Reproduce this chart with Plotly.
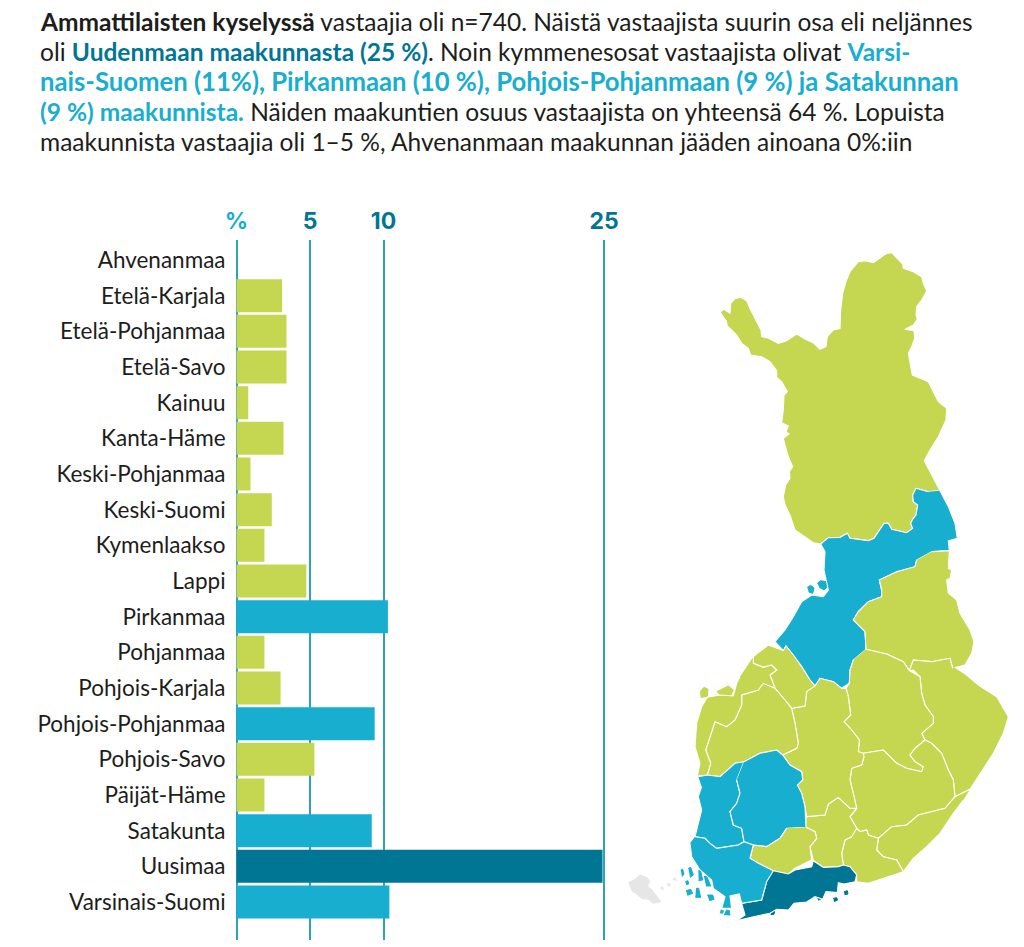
import plotly.graph_objects as go

# survey share per region
categories = ["Ahvenanmaa", "Etelä-Karjala", "Etelä-Pohjanmaa", "Etelä-Savo", "Kainuu", "Kanta-Häme",
              "Keski-Pohjanmaa", "Keski-Suomi", "Kymenlaakso", "Lappi", "Pirkanmaa", "Pohjanmaa",
              "Pohjois-Karjala", "Pohjois-Pohjanmaa", "Pohjois-Savo", "Päijät-Häme", "Satakunta",
              "Uusimaa", "Varsinais-Suomi"]
values = [0, 3.1, 3.4, 3.4, 0.8, 3.2, 0.95, 2.4, 1.9, 4.75, 10.3, 1.9, 3.0, 9.4, 5.3, 1.9, 9.2, 24.9, 10.4]
tick_vals = [0, 5, 10, 25]
tick_labels = ["%", "5", "10", "25"]
mid_regions = ["Pirkanmaa", "Pohjois-Pohjanmaa", "Satakunta", "Varsinais-Suomi"]
top_regions = ["Uusimaa"]

LIME = "#c5d650"
CYAN = "#17aecf"
TEAL = "#007694"
GRID = "#2ea3b8"
INK = "#1d1d1b"
ALAND = "#e6e6e6"
TEXT_FONT = "Lato"


def region_color(name):
    if name in top_regions:
        return TEAL
    if name in mid_regions:
        return CYAN
    return LIME


def north(points):
    return [(x, y - 1020) for x, y in points]


# map outlines, traced by hand
lappi = north([(302, 215), (312, 208), (330, 220), (332, 190), (345, 176), (362, 172), (380, 182), (392, 210),
               (410, 245), (423, 270), (425, 290), (445, 295), (475, 310), (500, 302), (530, 282), (555, 297),
               (582, 310), (600, 328), (618, 320), (622, 290), (640, 270), (660, 266), (662, 210), (668, 160),
               (678, 125), (690, 95), (715, 65), (735, 62), (760, 68), (785, 50), (800, 40), (815, 38), (830, 55),
               (848, 72), (850, 85), (880, 95), (905, 110), (910, 130), (920, 153), (905, 180), (890, 200),
               (888, 225), (892, 238), (880, 255), (855, 268), (882, 272), (884, 295), (875, 320), (865, 340),
               (870, 370), (877, 405), (900, 415), (925, 425), (940, 455), (955, 485), (980, 505), (978, 540),
               (955, 590), (930, 630), (913, 662), (930, 695), (945, 725), (960, 752), (925, 755), (888, 745),
               (878, 765), (880, 785), (893, 795), (888, 825), (878, 838), (872, 850), (878, 865), (860, 878),
               (815, 868), (805, 850), (792, 850), (778, 872), (762, 895), (745, 902), (690, 895), (682, 880),
               (660, 892), (625, 893), (602, 912), (580, 908), (560, 895), (535, 878), (525, 870), (510, 825),
               (495, 795), (490, 770), (497, 735), (510, 715), (508, 695), (518, 680), (505, 650), (495, 615),
               (490, 595), (507, 582), (498, 575), (505, 558), (485, 548), (490, 510), (492, 465), (502, 455),
               (485, 425), (470, 412), (470, 392), (450, 365), (425, 350), (392, 345), (385, 325), (365, 310),
               (350, 285), (322, 258), (318, 240)])
pohjois_pohjanmaa = north([(960, 752), (985, 800), (1005, 850), (1012, 895), (985, 903), (988, 932), (935, 935),
                           (890, 960), (885, 980), (830, 995), (778, 1020)]) + [
    (785, 30), (785, 50), (745, 65), (715, 95), (700, 120), (735, 155), (738, 208), (700, 240), (690, 270),
    (688, 310), (665, 325), (640, 305), (600, 295), (585, 318), (570, 300), (545, 260), (520, 225), (498, 198),
    (490, 212), (465, 185), (495, 150), (520, 110), (545, 65), (575, 45), (610, 50), (625, 30)] + north([
        (612, 990), (615, 935), (602, 912), (625, 893), (660, 892), (682, 880), (690, 895), (745, 902), (762, 895),
        (778, 872), (792, 850), (805, 850), (815, 868), (860, 878), (878, 865), (872, 850), (878, 838), (888, 825),
        (893, 795), (880, 785), (878, 765), (888, 745), (925, 755)])
kainuu = north([(935, 935), (988, 932), (985, 985), (995, 990), (990, 1015), (980, 1020)]) + [
    (985, 40), (1010, 60), (1020, 100), (1050, 150), (1062, 185), (1055, 220), (1035, 255), (1005, 262), (998, 265),
    (990, 235), (935, 245), (880, 240), (868, 272), (850, 245), (800, 222), (738, 208), (735, 155), (700, 120),
    (715, 95), (745, 65), (785, 50), (785, 30), (778, 0)] + north([(830, 995), (885, 980), (890, 960)])
pohjois_karjala = [(1005, 262), (1040, 285), (1075, 315), (1130, 350), (1165, 410), (1150, 460), (1120, 520),
                   (1085, 575), (1050, 628), (1005, 650), (1000, 600), (985, 570), (965, 520), (935, 490), (915, 480),
                   (905, 460), (940, 430), (940, 410), (915, 375), (905, 340), (900, 290), (880, 270), (868, 272),
                   (880, 240), (935, 245), (990, 235), (998, 265)]
pohjois_savo = [(738, 208), (800, 222), (850, 245), (868, 272), (900, 290), (905, 340), (915, 375), (940, 410),
                (940, 430), (905, 460), (915, 480), (885, 505), (870, 525), (885, 545), (910, 560), (905, 575),
                (860, 565), (830, 550), (790, 510), (730, 520), (715, 515), (718, 480), (695, 450), (672, 425),
                (692, 405), (685, 350), (678, 325), (688, 310), (690, 270), (700, 240)]
etela_savo = [(730, 520), (790, 510), (830, 550), (860, 565), (905, 575), (910, 560), (885, 545), (870, 525),
              (885, 505), (915, 480), (935, 490), (965, 520), (985, 570), (1000, 600), (1005, 650), (975, 685),
              (935, 695), (895, 705), (860, 735), (815, 740), (775, 775), (745, 765), (740, 750), (720, 755),
              (710, 745), (690, 710), (710, 685), (700, 640), (690, 600), (695, 565), (725, 555), (732, 530)]
etela_karjala = [(1050, 628), (1005, 650), (975, 685), (935, 695), (895, 705), (860, 735), (815, 740), (775, 775),
                 (770, 810), (790, 830), (830, 840), (850, 875), (880, 835), (920, 800), (960, 760), (1000, 700),
                 (1030, 660)]
kymenlaakso = [(710, 745), (720, 755), (740, 750), (745, 765), (775, 775), (770, 810), (790, 830), (830, 840),
               (850, 875), (790, 895), (745, 910), (710, 905), (710, 885), (690, 860), (670, 855), (665, 820),
               (675, 780), (695, 770)]
paijat_hame = [(560, 710), (615, 705), (625, 672), (655, 652), (690, 685), (710, 685), (690, 710), (710, 745),
               (695, 770), (675, 780), (665, 820), (670, 855), (655, 860), (610, 862), (580, 842), (570, 800),
               (590, 775), (585, 755), (558, 742)]
keski_suomi = [(585, 318), (600, 295), (640, 305), (665, 325), (678, 325), (685, 350), (692, 405), (672, 425),
               (695, 450), (718, 480), (715, 515), (730, 520), (732, 530), (725, 555), (695, 565), (690, 600),
               (700, 640), (710, 685), (690, 685), (655, 652), (625, 672), (615, 705), (560, 710), (555, 680),
               (545, 640), (532, 615), (548, 600), (545, 575), (510, 555), (488, 525), (530, 505), (535, 490),
               (525, 430), (515, 385), (555, 378), (560, 335)]
keski_pohjanmaa = [(400, 230), (445, 195), (490, 212), (498, 198), (520, 225), (545, 260), (570, 300), (585, 318),
                   (560, 335), (555, 378), (515, 385), (495, 360), (465, 325), (450, 285), (470, 270), (455, 255),
                   (430, 262), (400, 250)]
etela_pohjanmaa = [(430, 310), (465, 325), (495, 360), (515, 385), (525, 430), (535, 490), (530, 505), (488, 525),
                   (470, 510), (420, 520), (372, 545), (345, 550), (300, 590), (262, 585), (272, 550), (257, 510),
                   (285, 425), (320, 440), (345, 420), (365, 375), (365, 345), (415, 330)]
pohjanmaa = [(400, 230), (400, 250), (430, 262), (455, 255), (470, 270), (450, 285), (465, 325), (430, 310),
             (415, 330), (365, 345), (365, 375), (345, 420), (320, 440), (285, 425), (257, 510), (272, 550),
             (262, 585), (232, 588), (240, 550), (225, 500), (230, 430), (245, 380), (262, 352), (300, 345),
             (340, 348), (350, 310), (360, 290)]
satakunta = [(235, 590), (262, 585), (300, 590), (345, 550), (372, 545), (350, 600), (360, 640), (350, 670),
             (330, 695), (340, 735), (365, 745), (372, 785), (355, 795), (290, 805), (270, 790), (255, 775),
             (225, 770), (235, 730), (245, 690), (235, 650), (245, 620)]
pirkanmaa = [(372, 545), (420, 520), (470, 510), (488, 525), (510, 555), (545, 575), (548, 600), (532, 615),
             (545, 640), (555, 680), (558, 742), (500, 745), (480, 775), (440, 800), (400, 795), (372, 785),
             (365, 745), (340, 735), (330, 695), (350, 670), (360, 640), (350, 600)]
kanta_hame = [(558, 742), (585, 755), (590, 775), (570, 800), (575, 840), (525, 865), (505, 882), (460, 872),
              (415, 850), (390, 835), (400, 795), (440, 800), (480, 775), (500, 745)]
uusimaa = [(460, 872), (505, 882), (525, 870), (575, 860), (580, 842), (610, 862), (655, 860), (670, 855), (690, 860),
           (710, 885), (705, 905), (672, 912), (655, 908), (652, 938), (618, 935), (608, 958), (585, 950), (560, 966),
           (522, 970), (505, 990), (470, 988), (450, 1000), (400, 1010), (350, 1022), (375, 1005), (365, 970),
           (425, 960), (440, 905)]
varsinais_suomi = [(225, 770), (255, 775), (270, 790), (290, 805), (355, 795), (372, 785), (400, 795), (390, 835),
                   (415, 850), (460, 872), (440, 905), (425, 960), (365, 970), (358, 942), (330, 948), (335, 985),
                   (305, 985), (315, 950), (280, 925), (275, 900), (240, 870), (215, 830), (210, 790)]
ahvenanmaa = [(25, 908), (42, 900), (60, 885), (80, 892), (90, 905), (82, 918), (96, 930), (110, 948), (122, 965),
              (100, 970), (85, 958), (65, 955), (48, 940), (35, 932)]

map_outlines = {
    "Lappi": lappi, "Pohjois-Pohjanmaa": pohjois_pohjanmaa, "Kainuu": kainuu, "Pohjois-Karjala": pohjois_karjala,
    "Pohjois-Savo": pohjois_savo, "Etelä-Savo": etela_savo, "Etelä-Karjala": etela_karjala,
    "Kymenlaakso": kymenlaakso, "Päijät-Häme": paijat_hame, "Keski-Suomi": keski_suomi,
    "Keski-Pohjanmaa": keski_pohjanmaa, "Etelä-Pohjanmaa": etela_pohjanmaa, "Pohjanmaa": pohjanmaa,
    "Satakunta": satakunta, "Pirkanmaa": pirkanmaa, "Kanta-Häme": kanta_hame, "Uusimaa": uusimaa,
    "Varsinais-Suomi": varsinais_suomi,
}

# coast islands, one blob each
islands = {
    ALAND: [[(120, 925), (128, 920), (130, 930)], [(140, 915), (148, 910), (150, 920)],
            [(158, 898), (166, 893), (168, 903)]],
    CYAN: [[(562, 22), (572, 16), (582, 24), (578, 40), (566, 36)], [(592, 10), (602, 2), (618, 5), (625, 18), (612, 30), (598, 22)],
           [(182, 870), (188, 868), (192, 882), (186, 890)], [(205, 865), (212, 862), (220, 885), (210, 892)],
           [(235, 872), (242, 872), (248, 900), (236, 902)], [(252, 890), (260, 888), (272, 918), (258, 918)],
           [(198, 932), (212, 928), (218, 940), (202, 946)], [(228, 925), (236, 925), (242, 952), (226, 952)],
           [(262, 945), (278, 945), (282, 958), (268, 962)], [(318, 990), (328, 992), (330, 1005), (312, 1004)],
           [(196, 905), (204, 902), (206, 912), (198, 914)], [(302, 990), (310, 992), (308, 1000), (300, 998)]],
    TEAL: [[(590, 950), (600, 948), (606, 955), (595, 961)], [(640, 955), (650, 953), (653, 960), (642, 965)],
           [(672, 935), (682, 932), (684, 942), (674, 944)], [(452, 996), (464, 994), (462, 1003), (452, 1004)]],
    LIME: [[(240, 335), (252, 322), (264, 328), (262, 350), (242, 352)], [(290, 335), (310, 325), (325, 318), (340, 330),
                                                                           (332, 346), (300, 346)]],
}

fig = go.Figure()

fig.add_trace(go.Bar(
    x=values, y=categories, orientation="h", width=0.925,
    marker=dict(color=[region_color(c) for c in categories], line=dict(width=0)),
    hovertemplate="%{y}: %{x} %<extra></extra>",
))

fig.add_trace(go.Scatter(
    x=[p[0] for p in ahvenanmaa], y=[p[1] for p in ahvenanmaa], xaxis="x2", yaxis="y2",
    mode="lines", fill="toself", fillcolor=ALAND, line=dict(color=ALAND, width=1),
    name="Ahvenanmaa", hoverinfo="name",
))
for color, blobs in islands.items():
    for blob in blobs:
        fig.add_trace(go.Scatter(
            x=[p[0] for p in blob], y=[p[1] for p in blob], xaxis="x2", yaxis="y2",
            mode="lines", fill="toself", fillcolor=color, line=dict(color=color, width=1), hoverinfo="skip",
        ))
for name, outline in map_outlines.items():
    fig.add_trace(go.Scatter(
        x=[p[0] for p in outline], y=[p[1] for p in outline], xaxis="x2", yaxis="y2",
        mode="lines", fill="toself", fillcolor=region_color(name), line=dict(color="white", width=1.1),
        name=name, hoverinfo="name",
    ))

dark = f'<span style="color:{TEAL}">'
light = f'<span style="color:{CYAN}">'
intro_lines = [
    "<b>Ammattilaisten kyselyssä</b> vastaajia oli n=740. Näistä vastaajista suurin osa eli neljännes",
    f"oli {dark}<b>Uudenmaan maakunnasta (25 %)</b></span>. Noin kymmenesosat vastaajista olivat {light}<b>Varsi-</b></span>",
    f"{light}<b>nais-Suomen (11%), Pirkanmaan (10 %), Pohjois-Pohjanmaan (9 %) ja Satakunnan</b></span>",
    f"{light}<b>(9 %) maakunnista.</b></span> Näiden maakuntien osuus vastaajista on yhteensä 64 %. Lopuista",
    "maakunnista vastaajia oli 1–5 %, Ahvenanmaan maakunnan jääden ainoana 0%:iin",
]
line_y = [21, 51, 81, 112, 142]
line_size = [24.5, 24.5, 25.7, 24.5, 24.5]
annotations = [
    dict(text=t, x=37.5 / 1024, y=1 - y / 947, xref="paper", yref="paper", xanchor="left", yanchor="middle",
         showarrow=False, align="left", font=dict(family=TEXT_FONT, size=s, color=INK))
    for t, y, s in zip(intro_lines, line_y, line_size)
]

tick_text = [f'<span style="color:{CYAN if t == "%" else TEAL}">{t}</span>' for t in tick_labels]

fig.update_layout(
    width=1024, height=947, margin=dict(l=0, r=0, t=0, b=0, autoexpand=False),
    paper_bgcolor="white", plot_bgcolor="rgba(0,0,0,0)", showlegend=False,
    annotations=annotations,
    xaxis=dict(domain=[233.56 / 1024, 618.7 / 1024], range=[-0.2, 26], side="top", tickmode="array",
               tickvals=tick_vals, ticktext=tick_text, ticks="", automargin=False, ticklabelstandoff=5,
               tickfont=dict(family="Inter", size=23, weight=700), showline=False, zeroline=False,
               showgrid=True, gridcolor=GRID, gridwidth=1.8, layer="below traces"),
    yaxis=dict(domain=[1 - 940 / 947, 1 - 240 / 947], range=[19.065, -0.56], type="category",
               categoryorder="array", categoryarray=categories, tickmode="linear", automargin=False,
               ticks="", ticklabelstandoff=7, tickfont=dict(family=TEXT_FONT, size=22.5, color=INK),
               showline=False, showgrid=False, zeroline=False),
    # map axes span the whole page so the traced outlines land where they were read
    xaxis2=dict(domain=[0, 1], range=[-1860, 1212], visible=False, anchor="y2", fixedrange=True),
    yaxis2=dict(domain=[0, 1], range=[1101, -1740], visible=False, anchor="x2", fixedrange=True),
)

# the page's default body margin would push the figure off by 8px
fig.write_html("out.html", config={"displayModeBar": False}, post_script="document.body.style.margin = '0';")
